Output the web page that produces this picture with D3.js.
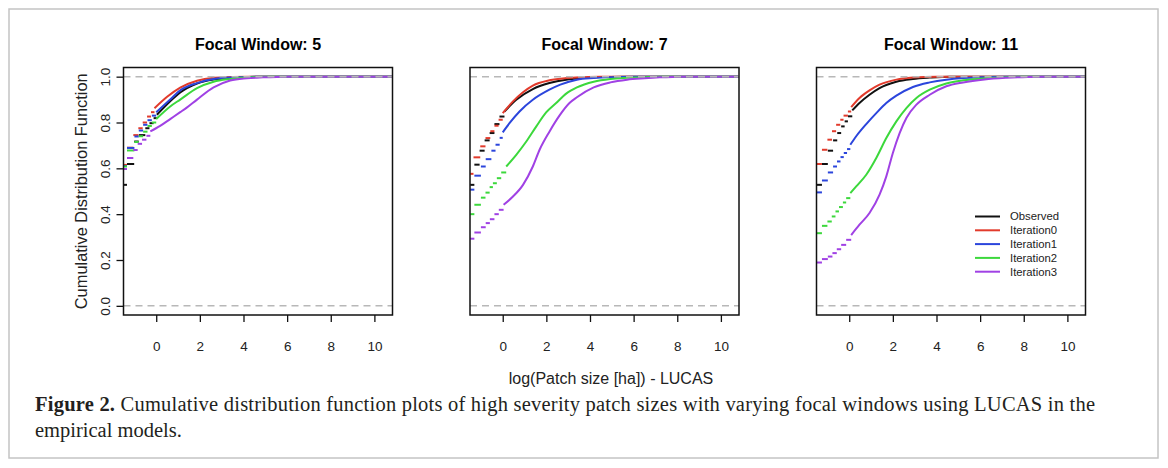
<!DOCTYPE html>
<html>
<head>
<meta charset="utf-8">
<script src="https://cdn.jsdelivr.net/npm/d3@7"></script>
<style>
body { margin: 0; background: #fff; }
</style>
</head>
<body>
<div id="container"></div>
<script>
// series and axes
var seriesNames = ["Observed", "Iteration0", "Iteration1", "Iteration2", "Iteration3"];
var seriesColors = ["#111111", "#e23b2c", "#2b45dc", "#3cd83c", "#a041e4"];
var focalWindows = [5, 7, 11];
var xTicks = [0, 2, 4, 6, 8, 10];
var yTicks = [0, 0.2, 0.4, 0.6, 0.8, 1.0];

// ecdf dashes on the left (small discrete patches), one list per series, [log size, F]
var stepsFW5 = [
	[[-1.49, 0.528], [-1.34, 0.619], [-1.01, 0.717], [-0.8, 0.745], [-0.5, 0.775], [-0.31, 0.797], [-0.12, 0.819]],
	[[-1.49, 0.615], [-1.34, 0.69], [-1.05, 0.745], [-0.82, 0.775], [-0.62, 0.8], [-0.42, 0.826], [-0.24, 0.845]],
	[[-1.49, 0.61], [-1.34, 0.689], [-1.0, 0.739], [-0.8, 0.765], [-0.6, 0.79], [-0.4, 0.81], [-0.2, 0.83]],
	[[-1.49, 0.608], [-1.34, 0.678], [-1.0, 0.715], [-0.8, 0.74], [-0.6, 0.76], [-0.4, 0.785], [-0.2, 0.8]],
	[[-1.49, 0.597], [-1.34, 0.645], [-1.05, 0.68], [-0.85, 0.707], [-0.65, 0.725], [-0.45, 0.742]]
];
// where the steps get dense enough to look like a line
var curveFW5 = [
	[[0.03, 0.834], [0.64, 0.893], [1.1, 0.931], [1.87, 0.97], [2.63, 0.988], [3.7, 0.996], [4.6, 1], [10.8, 1]],
	[[-0.08, 0.862], [0.5, 0.912], [1.1, 0.952], [1.87, 0.982], [2.63, 0.995], [3.5, 0.999], [4.3, 1], [10.8, 1]],
	[[0.0, 0.845], [0.64, 0.9], [1.1, 0.94], [1.87, 0.972], [2.63, 0.99], [3.7, 0.997], [4.6, 1], [10.8, 1]],
	[[0.0, 0.815], [0.64, 0.87], [1.1, 0.9], [1.87, 0.95], [2.63, 0.978], [3.39, 0.99], [4.16, 0.997], [5.2, 1], [10.8, 1]],
	[[-0.27, 0.761], [0.18, 0.785], [0.64, 0.815], [1.1, 0.845], [1.4, 0.865], [1.87, 0.9], [2.63, 0.953], [3.39, 0.983], [4.16, 0.993], [4.9, 0.997], [6.0, 1], [10.8, 1]]
];

var stepsFW7 = [
	[[-1.49, 0.528], [-1.3, 0.616], [-1.06, 0.677], [-0.83, 0.722], [-0.6, 0.754], [-0.38, 0.793], [-0.15, 0.826]],
	[[-1.49, 0.576], [-1.34, 0.648], [-1.03, 0.696], [-0.79, 0.732], [-0.57, 0.762], [-0.38, 0.786], [-0.19, 0.812]],
	[[-1.49, 0.507], [-1.3, 0.568], [-1.0, 0.608], [-0.78, 0.64], [-0.52, 0.677], [-0.33, 0.703], [-0.14, 0.733]],
	[[-1.49, 0.4], [-1.3, 0.441], [-1.0, 0.472], [-0.79, 0.494], [-0.6, 0.518], [-0.45, 0.535], [-0.27, 0.557], [-0.07, 0.582]],
	[[-1.49, 0.293], [-1.3, 0.32], [-1.0, 0.343], [-0.78, 0.361], [-0.59, 0.378], [-0.38, 0.4], [-0.18, 0.419]]
];
var curveFW7 = [
	[[0.08, 0.848], [0.62, 0.899], [1.38, 0.946], [2.14, 0.972], [2.91, 0.987], [3.67, 0.994], [4.44, 0.998], [5.5, 1], [10.8, 1]],
	[[0.0, 0.841], [0.47, 0.892], [0.93, 0.932], [1.38, 0.961], [2.14, 0.984], [2.91, 0.994], [3.67, 0.998], [4.5, 1], [10.8, 1]],
	[[0.0, 0.757], [0.31, 0.797], [0.77, 0.848], [1.38, 0.899], [2.14, 0.943], [2.64, 0.965], [3.4, 0.987], [4.17, 0.994], [5.0, 0.998], [6.0, 1], [10.8, 1]],
	[[0.16, 0.608], [0.62, 0.659], [1.08, 0.717], [1.54, 0.783], [1.99, 0.844], [2.45, 0.885], [2.91, 0.926], [3.4, 0.953], [4.17, 0.978], [4.93, 0.99], [5.7, 0.995], [6.5, 0.998], [7.2, 1], [10.8, 1]],
	[[0.04, 0.441], [0.47, 0.477], [0.93, 0.528], [1.38, 0.608], [1.69, 0.681], [2.14, 0.76], [2.6, 0.83], [3.06, 0.885], [3.4, 0.91], [4.17, 0.953], [4.93, 0.975], [5.7, 0.987], [6.5, 0.993], [7.2, 0.997], [8.2, 1], [10.8, 1]]
];

var stepsFW11 = [
	[[-1.49, 0.528], [-1.25, 0.619], [-0.98, 0.677], [-0.74, 0.722], [-0.55, 0.754], [-0.37, 0.783], [-0.21, 0.805], [-0.06, 0.827]],
	[[-1.49, 0.619], [-1.25, 0.681], [-1.0, 0.725], [-0.79, 0.762], [-0.6, 0.79], [-0.41, 0.812], [-0.26, 0.83], [-0.06, 0.848]],
	[[-1.49, 0.495], [-1.25, 0.547], [-0.98, 0.582], [-0.74, 0.608], [-0.56, 0.63], [-0.4, 0.649], [-0.25, 0.667], [-0.1, 0.684]],
	[[-1.49, 0.317], [-1.25, 0.349], [-1.0, 0.368], [-0.8, 0.39], [-0.63, 0.412], [-0.47, 0.431], [-0.29, 0.451], [-0.14, 0.47]],
	[[-1.49, 0.189], [-1.25, 0.204], [-0.98, 0.215], [-0.77, 0.23], [-0.57, 0.247], [-0.37, 0.266], [-0.14, 0.288]]
];
var curveFW11 = [
	[[0.14, 0.853], [0.47, 0.885], [0.93, 0.921], [1.39, 0.95], [2.16, 0.978], [2.92, 0.99], [3.69, 0.996], [4.6, 1], [10.8, 1]],
	[[0.09, 0.867], [0.47, 0.907], [0.93, 0.94], [1.39, 0.965], [2.16, 0.987], [2.92, 0.996], [4.0, 1], [10.8, 1]],
	[[0.05, 0.703], [0.32, 0.74], [0.78, 0.793], [1.24, 0.841], [1.7, 0.885], [2.16, 0.917], [2.92, 0.955], [3.69, 0.975], [4.45, 0.987], [5.22, 0.994], [6.2, 0.998], [7.2, 1], [10.8, 1]],
	[[0.05, 0.492], [0.32, 0.521], [0.78, 0.572], [1.24, 0.645], [1.7, 0.732], [2.16, 0.805], [2.62, 0.863], [3.08, 0.907], [3.69, 0.943], [4.45, 0.97], [5.22, 0.984], [6.2, 0.993], [7.2, 0.998], [8.2, 1], [10.8, 1]],
	[[0.09, 0.309], [0.47, 0.354], [0.93, 0.405], [1.39, 0.485], [1.7, 0.565], [2.0, 0.667], [2.31, 0.754], [2.62, 0.82], [3.08, 0.878], [3.69, 0.921], [4.45, 0.958], [5.22, 0.975], [6.2, 0.988], [7.2, 0.995], [8.2, 0.999], [9.0, 1], [10.8, 1]]
];

var allSteps = [stepsFW5, stepsFW7, stepsFW11];
var allCurves = [curveFW5, curveFW7, curveFW11];

(function()
{
	var W = 1168, H = 468;
	var panelLeft = [123.5, 470, 816.5];
	var panelW = 269;
	var top = 67.5, bottom = 315;
	var sans = "'Liberation Sans', Arial, sans-serif";

	var svg = d3.select("#container").append("svg")
		.attr("width", W).attr("height", H)
		.style("display", "block");

	// light frame round the figure
	svg.append("rect").attr("x", 9).attr("y", 9).attr("width", 1149).attr("height", 449)
		.attr("fill", "#fff").attr("stroke", "#c4c4c4").attr("stroke-width", 1.5);

	var x = d3.scaleLinear().domain([-1.5, 10.83]).range([0, panelW]);
	var y = d3.scaleLinear().domain([-0.04, 1.04]).range([bottom - top, 0]);

	var line = d3.line()
		.x(function(d) { return x(d[0]); })
		.y(function(d) { return y(d[1]); })
		.curve(d3.curveMonotoneX);

	for (var p = 0; p < focalWindows.length; p++)
	{
		var g = svg.append("g").attr("transform", "translate(" + panelLeft[p] + "," + top + ")");
		var steps = allSteps[p];
		var curves = allCurves[p];

		g.append("text")
			.attr("x", panelW / 2).attr("y", -18)
			.attr("text-anchor", "middle")
			.style("font-family", sans).style("font-size", "16px").style("font-weight", "bold")
			.text("Focal Window: " + focalWindows[p]);

		for (var s = 0; s < seriesNames.length; s++)
		{
			var st = steps[s];
			var cv = curves[s];
			// horizontal ecdf pieces, no verticals
			for (var i = 0; i < st.length; i++)
			{
				var xEnd = (i + 1 < st.length) ? st[i + 1][0] : cv[0][0];
				g.append("line")
					.attr("x1", x(st[i][0])).attr("x2", x(xEnd))
					.attr("y1", y(st[i][1])).attr("y2", y(st[i][1]))
					.attr("stroke", seriesColors[s]).attr("stroke-width", 2);
			}
			g.append("path")
				.datum(cv)
				.attr("d", line)
				.attr("fill", "none")
				.attr("stroke", seriesColors[s])
				.attr("stroke-width", 2);
		}

		// the 0 and 1 reference lines sit on top
		[0, 1].forEach(function(v)
		{
			g.append("line")
				.attr("x1", 0).attr("x2", panelW)
				.attr("y1", y(v)).attr("y2", y(v))
				.attr("stroke", "#b8b8b8").attr("stroke-width", 1.5)
				.attr("stroke-dasharray", "7,5");
		});

		g.append("rect")
			.attr("width", panelW).attr("height", bottom - top)
			.attr("fill", "none").attr("stroke", "#111").attr("stroke-width", 1.5);

		var xAxis = g.append("g").attr("transform", "translate(0," + (bottom - top) + ")")
			.call(d3.axisBottom(x).tickValues(xTicks).tickSize(7).tickSizeOuter(0).tickPadding(19));
		xAxis.select(".domain").remove();
		xAxis.selectAll("line").attr("stroke", "#111").attr("stroke-width", 1.3);
		xAxis.selectAll("text").style("font-family", sans).style("font-size", "13.5px").attr("fill", "#222");

		if (p == 0)
		{
			var yAxis = g.append("g")
				.call(d3.axisLeft(y).tickValues(yTicks).tickSize(7).tickSizeOuter(0).tickFormat(d3.format(".1f")));
			yAxis.select(".domain").remove();
			yAxis.selectAll("line").attr("stroke", "#111").attr("stroke-width", 1.3);
			yAxis.selectAll("text")
				.attr("x", null).attr("dy", null)
				.attr("text-anchor", "middle")
				.attr("transform", "translate(-14,0) rotate(-90)")
				.style("font-family", sans).style("font-size", "13.5px").attr("fill", "#222");

			g.append("text")
				.attr("transform", "translate(-37," + ((bottom - top) / 2) + ") rotate(-90)")
				.attr("text-anchor", "middle")
				.style("font-family", sans).style("font-size", "16.4px").attr("fill", "#222")
				.text("Cumulative Distribution Function");
		}

		if (p == 2)
		{
			var lg = g.append("g").attr("transform", "translate(" + (975 - panelLeft[p]) + "," + (216.5 - top) + ")");
			seriesNames.forEach(function(name, k)
			{
				lg.append("line")
					.attr("x1", 0).attr("x2", 25)
					.attr("y1", k * 13.8).attr("y2", k * 13.8)
					.attr("stroke", seriesColors[k]).attr("stroke-width", 2);
				lg.append("text")
					.attr("x", 35).attr("y", k * 13.8).attr("dy", "0.35em")
					.style("font-family", sans).style("font-size", "11.3px").attr("fill", "#222")
					.text(name);
			});
		}
	}

	svg.append("text")
		.attr("x", 611).attr("y", 384)
		.attr("text-anchor", "middle")
		.style("font-family", sans).style("font-size", "16px").attr("fill", "#222")
		.text("log(Patch size [ha]) - LUCAS");

	// caption
	var serif = "'Liberation Serif', 'Times New Roman', serif";
	var cap1 = svg.append("text").attr("x", 35).attr("y", 411)
		.attr("textLength", 1060).attr("lengthAdjust", "spacing")
		.style("font-family", serif).style("font-size", "20.5px").attr("fill", "#231f20");
	cap1.append("tspan").style("font-weight", "bold").text("Figure 2.");
	cap1.append("tspan").text(" Cumulative distribution function plots of high severity patch sizes with varying focal windows using LUCAS in the");
	svg.append("text").attr("x", 35).attr("y", 437)
		.style("font-family", serif).style("font-size", "20.5px").attr("fill", "#231f20")
		.text("empirical models.");
})();
</script>
</body>
</html>
